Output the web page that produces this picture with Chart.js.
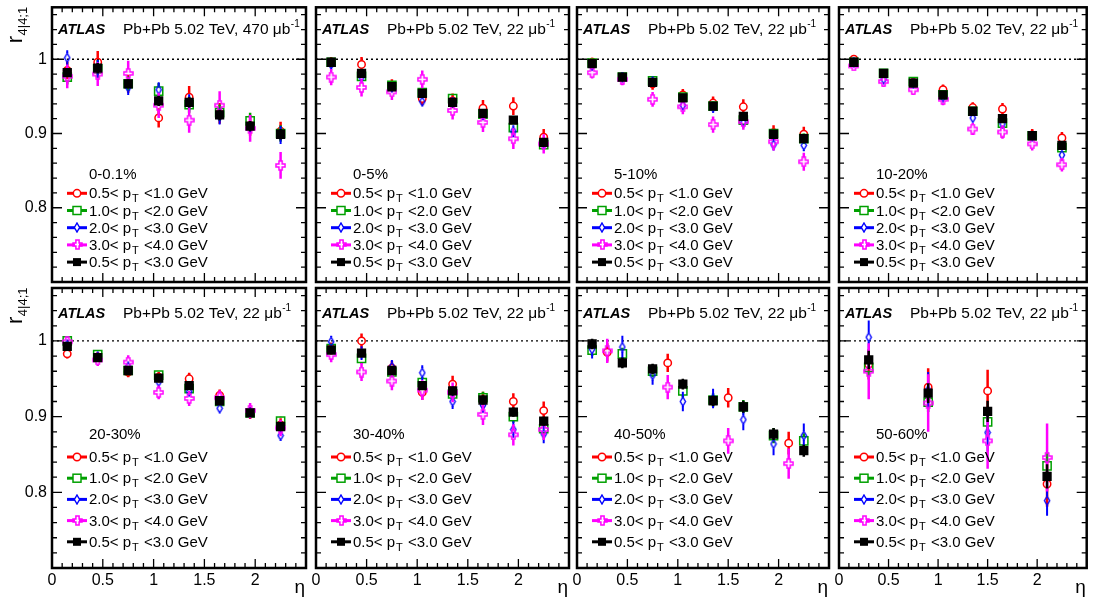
<!DOCTYPE html>
<html>
<head>
<meta charset="utf-8">
<script src="https://cdn.jsdelivr.net/npm/chart.js@4.4.0/dist/chart.umd.min.js"></script>
<style>
  body { margin: 0; background: #fff; }
  #wrap { position: relative; width: 1094px; height: 602px; background: #fff; }
  #wrap canvas { position: absolute; left: 0; top: 0; display: block; }
</style>
</head>
<body>
<div id="wrap"></div>
<script>
'use strict';

// ---- data ----
const etaFine = [0.15, 0.45, 0.75, 1.05, 1.35, 1.65, 1.95, 2.25];
const etaCoarse = [0.3, 0.9, 1.5, 2.1];
const centralities = ['0-0.1%', '0-5%', '5-10%', '10-20%', '20-30%', '30-40%', '40-50%', '50-60%'];
const lumis = ['470', '22', '22', '22', '22', '22', '22', '22'];
const ptLow = ['0.5', '1.0', '2.0', '3.0', '0.5'];
const ptHigh = ['1.0', '2.0', '3.0', '4.0', '3.0'];
const xTickLabels = [0, 0.5, 1, 1.5, 2];
const yTickLabels = [0.8, 0.9, 1];

// rows: 0.5-1, 1-2, 2-3, 3-4, 0.5-3 GeV
const r_0_01 = [
  [0.985, 0.996, 0.967, 0.921, 0.949, 0.927, 0.911, 0.903],
  [0.976, 0.987, 0.967, 0.957, 0.939, 0.928, 0.917, 0.900],
  [1.002, 0.987, 0.962, 0.959, 0.942, 0.923, 0.911, 0.898],
  [0.977, 0.980, 0.981, 0.938, 0.918, 0.938, 0.907, 0.857],
  [0.982, 0.988, 0.967, 0.944, 0.942, 0.925, 0.910, 0.899]
];
const err_0_01 = [
  [0.012, 0.015, 0.012, 0.013, 0.015, 0.014, 0.014, 0.013],
  [0.010, 0.012, 0.010, 0.011, 0.011, 0.011, 0.011, 0.011],
  [0.010, 0.012, 0.010, 0.010, 0.011, 0.011, 0.011, 0.012],
  [0.016, 0.016, 0.017, 0.017, 0.017, 0.019, 0.018, 0.018],
  [0.006, 0.007, 0.006, 0.007, 0.007, 0.007, 0.007, 0.007]
];
const r_0_5 = [
  [0.996, 0.993, 0.965, 0.947, 0.944, 0.934, 0.937, 0.895],
  [0.996, 0.977, 0.965, 0.955, 0.947, 0.926, 0.908, 0.885],
  [0.993, 0.976, 0.962, 0.943, 0.942, 0.925, 0.903, 0.887],
  [0.976, 0.962, 0.956, 0.973, 0.931, 0.915, 0.893, 0.886],
  [0.996, 0.981, 0.963, 0.954, 0.942, 0.927, 0.918, 0.888]
];
const err_0_5 = [
  [0.007, 0.010, 0.008, 0.009, 0.010, 0.011, 0.012, 0.011],
  [0.005, 0.006, 0.005, 0.006, 0.006, 0.007, 0.007, 0.007],
  [0.005, 0.006, 0.006, 0.006, 0.007, 0.007, 0.008, 0.008],
  [0.011, 0.012, 0.011, 0.012, 0.012, 0.013, 0.014, 0.013],
  [0.004, 0.004, 0.004, 0.004, 0.004, 0.005, 0.005, 0.005]
];
const r_5_10 = [
  [0.996, 0.976, 0.967, 0.952, 0.941, 0.936, 0.901, 0.899],
  [0.995, 0.976, 0.971, 0.949, 0.937, 0.918, 0.900, 0.893],
  [0.991, 0.976, 0.970, 0.938, 0.935, 0.915, 0.885, 0.884],
  [0.982, 0.973, 0.946, 0.936, 0.912, 0.916, 0.889, 0.862],
  [0.994, 0.976, 0.969, 0.948, 0.937, 0.923, 0.899, 0.893]
];
const err_5_10 = [
  [0.006, 0.007, 0.008, 0.008, 0.009, 0.010, 0.010, 0.010],
  [0.004, 0.005, 0.005, 0.005, 0.006, 0.006, 0.006, 0.007],
  [0.005, 0.005, 0.006, 0.006, 0.007, 0.007, 0.008, 0.008],
  [0.008, 0.008, 0.010, 0.010, 0.011, 0.011, 0.012, 0.012],
  [0.003, 0.003, 0.004, 0.004, 0.004, 0.004, 0.005, 0.005]
];
const r_10_20 = [
  [1.000, 0.981, 0.969, 0.959, 0.935, 0.933, 0.898, 0.894],
  [0.996, 0.981, 0.970, 0.952, 0.930, 0.914, 0.897, 0.881],
  [0.996, 0.973, 0.967, 0.949, 0.921, 0.913, 0.896, 0.871],
  [0.991, 0.970, 0.959, 0.946, 0.906, 0.902, 0.886, 0.858],
  [0.996, 0.981, 0.968, 0.952, 0.930, 0.920, 0.897, 0.884]
];
const err_10_20 = [
  [0.005, 0.006, 0.006, 0.007, 0.007, 0.008, 0.008, 0.008],
  [0.004, 0.004, 0.004, 0.005, 0.005, 0.005, 0.005, 0.006],
  [0.004, 0.004, 0.005, 0.005, 0.005, 0.006, 0.006, 0.006],
  [0.006, 0.007, 0.007, 0.008, 0.008, 0.009, 0.009, 0.009],
  [0.003, 0.003, 0.003, 0.003, 0.003, 0.004, 0.004, 0.004]
];
const r_20_30 = [
  [0.983, 0.979, 0.959, 0.952, 0.950, 0.928, 0.905, 0.889],
  [1.000, 0.982, 0.961, 0.955, 0.937, 0.920, 0.905, 0.894],
  [0.995, 0.979, 0.966, 0.946, 0.933, 0.911, 0.905, 0.875],
  [0.999, 0.975, 0.972, 0.932, 0.924, 0.925, 0.908, 0.885],
  [0.993, 0.978, 0.961, 0.951, 0.941, 0.921, 0.905, 0.887]
];
const err_20_30 = [
  [0.006, 0.006, 0.007, 0.007, 0.008, 0.008, 0.008, 0.009],
  [0.004, 0.004, 0.005, 0.005, 0.005, 0.005, 0.006, 0.006],
  [0.005, 0.005, 0.005, 0.006, 0.006, 0.006, 0.007, 0.007],
  [0.007, 0.008, 0.009, 0.009, 0.010, 0.010, 0.010, 0.011],
  [0.003, 0.003, 0.003, 0.004, 0.004, 0.004, 0.004, 0.004]
];
const r_30_40 = [
  [0.990, 1.000, 0.964, 0.932, 0.943, 0.922, 0.920, 0.908],
  [0.990, 0.977, 0.959, 0.945, 0.930, 0.925, 0.900, 0.884],
  [0.999, 0.984, 0.966, 0.958, 0.920, 0.915, 0.883, 0.877],
  [0.982, 0.959, 0.947, 0.935, 0.932, 0.903, 0.876, 0.883],
  [0.988, 0.984, 0.961, 0.941, 0.934, 0.922, 0.906, 0.894]
];
const err_30_40 = [
  [0.008, 0.010, 0.010, 0.010, 0.011, 0.011, 0.011, 0.012],
  [0.006, 0.007, 0.007, 0.007, 0.008, 0.008, 0.008, 0.009],
  [0.008, 0.009, 0.009, 0.010, 0.010, 0.010, 0.011, 0.012],
  [0.010, 0.012, 0.012, 0.013, 0.013, 0.014, 0.014, 0.014],
  [0.005, 0.005, 0.005, 0.005, 0.006, 0.006, 0.006, 0.006]
];
const r_40_50 = [
  [0.985, 0.971, 0.925, 0.865],
  [0.988, 0.983, 0.960, 0.934, 0.922, 0.913, 0.875, 0.868],
  [0.989, 0.992, 0.955, 0.920, 0.924, 0.896, 0.864, 0.875],
  [0.987, 0.939, 0.868, 0.838],
  [0.996, 0.971, 0.963, 0.943, 0.921, 0.913, 0.877, 0.855]
];
const err_40_50 = [
  [0.012, 0.012, 0.013, 0.015],
  [0.008, 0.008, 0.008, 0.009, 0.009, 0.009, 0.010, 0.010],
  [0.012, 0.015, 0.013, 0.013, 0.013, 0.014, 0.015, 0.016],
  [0.016, 0.016, 0.017, 0.020],
  [0.007, 0.007, 0.007, 0.007, 0.007, 0.008, 0.008, 0.008]
];
const r_50_60 = [
  [0.969, 0.939, 0.934, 0.811],
  [0.965, 0.919, 0.893, 0.835],
  [1.005, 0.935, 0.879, 0.789],
  [0.960, 0.918, 0.868, 0.846],
  [0.975, 0.931, 0.907, 0.821]
];
const err_50_60 = [
  [0.020, 0.025, 0.028, 0.030],
  [0.012, 0.013, 0.015, 0.018],
  [0.022, 0.024, 0.025, 0.020],
  [0.037, 0.038, 0.037, 0.045],
  [0.012, 0.013, 0.014, 0.016]
];

const binsFine = [etaFine, etaFine, etaFine, etaFine, etaFine];
const bins_40_50 = [etaCoarse, etaFine, etaFine, etaCoarse, etaFine];
const binsCoarse = [etaCoarse, etaCoarse, etaCoarse, etaCoarse, etaCoarse];

const panelValues = [r_0_01, r_0_5, r_5_10, r_10_20, r_20_30, r_30_40, r_40_50, r_50_60];
const panelErrors = [err_0_01, err_0_5, err_5_10, err_10_20, err_20_30, err_30_40, err_40_50, err_50_60];
const panelBins = [binsFine, binsFine, binsFine, binsFine, binsFine, binsFine, bins_40_50, binsCoarse];

// ---- layout ----
const W = 1094, H = 602;
const colLeft = [52, 316, 577, 839];
const colRight = [306, 569, 829, 1091];
const rowTop = [4, 288];
const rowBottom = [282, 568];
const FONT = "'Liberation Sans', Arial, Helvetica, sans-serif";

const rowTitleBase = [27, 30];
const rowCentBase = [172, 151];
const rowLegBase = [191, 174];
const rowLegStep = [17.2, 21.2];

function makeDiamond() {
  const c = document.createElement('canvas');
  c.width = 8; c.height = 11;
  const g = c.getContext('2d');
  g.strokeStyle = '#0000ff';
  g.lineWidth = 1.4;
  g.beginPath();
  g.moveTo(4, 1); g.lineTo(6.6, 5.5); g.lineTo(4, 10); g.lineTo(1.4, 5.5);
  g.closePath();
  g.stroke();
  return c;
}

function makeOpenCross() {
  const c = document.createElement('canvas');
  c.width = 11; c.height = 11;
  const g = c.getContext('2d');
  g.strokeStyle = '#ff00ff';
  g.lineWidth = 1.5;
  const m = 5.5, a = 4.5, b = 1.6;
  g.beginPath();
  g.moveTo(m - b, m - a); g.lineTo(m + b, m - a); g.lineTo(m + b, m - b);
  g.lineTo(m + a, m - b); g.lineTo(m + a, m + b); g.lineTo(m + b, m + b);
  g.lineTo(m + b, m + a); g.lineTo(m - b, m + a); g.lineTo(m - b, m + b);
  g.lineTo(m - a, m + b); g.lineTo(m - a, m - b); g.lineTo(m - b, m - b);
  g.closePath();
  g.stroke();
  return c;
}

const diamondImg = makeDiamond();
const crossImg = makeOpenCross();

const seriesStyle = [
  { color: '#ff0000', pointStyle: 'circle', radius: 3.7, gap: 3.7, bar: 2.5, fill: 'rgba(0,0,0,0)' },
  { color: '#00a000', pointStyle: 'rect', radius: 5.8, gap: 4, bar: 2.5, fill: 'rgba(0,0,0,0)' },
  { color: '#0000ff', pointStyle: diamondImg, radius: 5, gap: 4.5, bar: 2, fill: 'rgba(0,0,0,0)' },
  { color: '#ff00ff', pointStyle: crossImg, radius: 5, gap: 4.5, bar: 2.5, fill: 'rgba(0,0,0,0)' },
  { color: '#000000', pointStyle: 'rect', radius: 5.5, gap: 0, bar: 2.5, fill: '#000000' }
];

function drawLegendMarker(ctx, k, x, y) {
  const st = seriesStyle[k];
  ctx.save();
  ctx.strokeStyle = st.color;
  ctx.lineWidth = 1.5;
  if (k === 0) {
    ctx.fillStyle = '#fff';
    ctx.beginPath();
    ctx.arc(x, y, 3.7, 0, Math.PI * 2);
    ctx.fill();
    ctx.stroke();
  } else if (k === 1) {
    ctx.fillStyle = '#fff';
    ctx.fillRect(x - 4, y - 4, 8, 8);
    ctx.strokeRect(x - 4, y - 4, 8, 8);
  } else if (k === 4) {
    ctx.fillStyle = '#000';
    ctx.fillRect(x - 4, y - 4, 8, 8);
  } else {
    const img = st.pointStyle;
    ctx.fillStyle = '#fff';
    ctx.fillRect(x - 2, y - 2, 4, 4);
    ctx.drawImage(img, Math.round(x - img.width / 2), Math.round(y - img.height / 2));
  }
  ctx.restore();
}

function drawPtText(ctx, x, y, lo, hi) {
  ctx.font = '15px ' + FONT;
  const pre = lo + '< p';
  ctx.fillText(pre, x, y);
  const w1 = ctx.measureText(pre).width;
  ctx.font = '11px ' + FONT;
  ctx.fillText('T', x + w1 + 1, y + 4);
  const wT = ctx.measureText('T').width;
  ctx.font = '15px ' + FONT;
  ctx.fillText(' <' + hi + ' GeV', x + w1 + wT + 2, y);
}

const panelDecor = {
  id: 'panelDecor',
  beforeDatasetsDraw(chart) {
    const ctx = chart.ctx, a = chart.chartArea;
    const y1 = chart.scales.y.getPixelForValue(1);
    ctx.save();
    ctx.strokeStyle = '#000';
    ctx.lineWidth = 1.3;
    ctx.setLineDash([2, 3]);
    ctx.beginPath();
    ctx.moveTo(a.left, y1);
    ctx.lineTo(a.right, y1);
    ctx.stroke();
    ctx.restore();
  },
  beforeDatasetDraw(chart, args) {
    const k = args.index;
    const st = seriesStyle[k];
    const ds = chart.data.datasets[k];
    const xs = chart.scales.x, ys = chart.scales.y;
    const ctx = chart.ctx;
    ctx.save();
    ctx.strokeStyle = st.color;
    ctx.lineWidth = st.bar;
    ctx.beginPath();
    ds.data.forEach(pt => {
      const px = xs.getPixelForValue(pt.x);
      const py = ys.getPixelForValue(pt.y);
      const top = ys.getPixelForValue(pt.y + pt.e);
      const bot = ys.getPixelForValue(pt.y - pt.e);
      if (top < py - st.gap) { ctx.moveTo(px, top); ctx.lineTo(px, py - st.gap); }
      if (bot > py + st.gap) { ctx.moveTo(px, py + st.gap); ctx.lineTo(px, bot); }
    });
    ctx.stroke();
    ctx.restore();
  },
  afterDraw(chart, args, opts) {
    const p = opts.panel;
    const col = p % 4, row = Math.floor(p / 4);
    const ctx = chart.ctx, a = chart.chartArea;
    const xs = chart.scales.x, ys = chart.scales.y;
    ctx.save();
    ctx.strokeStyle = '#000';
    ctx.fillStyle = '#000';

    // ticks, inward on all four sides
    ctx.lineWidth = 1.3;
    ctx.beginPath();
    for (let i = 0; i <= 25; i++) {
      const px = xs.getPixelForValue(i / 10);
      const len = i % 5 === 0 ? 9 : 5;
      ctx.moveTo(px, a.bottom); ctx.lineTo(px, a.bottom - len);
      ctx.moveTo(px, a.top); ctx.lineTo(px, a.top + len);
    }
    for (let i = 0; i <= 18; i++) {
      const py = ys.getPixelForValue(0.7 + i * 0.02);
      const len = i % 5 === 0 ? 10 : 5;
      ctx.moveTo(a.left, py); ctx.lineTo(a.left + len, py);
      ctx.moveTo(a.right, py); ctx.lineTo(a.right - len, py);
    }
    ctx.stroke();

    // frame
    ctx.lineWidth = 2.5;
    ctx.strokeRect(a.left, a.top, a.right - a.left, a.bottom - a.top);

    // header
    const L = a.left, T = a.top;
    ctx.textAlign = 'left';
    ctx.textBaseline = 'alphabetic';
    ctx.font = 'italic bold 14.5px ' + FONT;
    ctx.fillText('ATLAS', L + 6, T + rowTitleBase[row]);
    ctx.font = '15.5px ' + FONT;
    const head = 'Pb+Pb 5.02 TeV, ' + lumis[p] + ' \u03bcb';
    ctx.fillText(head, L + 71, T + rowTitleBase[row]);
    const hw = ctx.measureText(head).width;
    ctx.font = '10px ' + FONT;
    ctx.fillText('-1', L + 71 + hw + 0.5, T + rowTitleBase[row] - 7);

    // centrality and legend
    ctx.font = '15px ' + FONT;
    ctx.fillText(centralities[p], L + 37, T + rowCentBase[row]);
    for (let k = 0; k < 5; k++) {
      const by = T + rowLegBase[row] + k * rowLegStep[row];
      const my = by - 5;
      const st = seriesStyle[k];
      ctx.save();
      ctx.strokeStyle = st.color;
      ctx.lineWidth = 3;
      ctx.beginPath();
      ctx.moveTo(L + 15, my); ctx.lineTo(L + 35, my);
      ctx.stroke();
      ctx.restore();
      drawLegendMarker(ctx, k, L + 25, my);
      drawPtText(ctx, L + 37, by, ptLow[k], ptHigh[k]);
    }

    // axis titles
    if (col === 0) {
      ctx.save();
      ctx.translate(22, T + 36);
      ctx.rotate(-Math.PI / 2);
      ctx.font = '22px ' + FONT;
      ctx.fillText('r', 0, 0);
      const wr = ctx.measureText('r').width;
      ctx.font = '13px ' + FONT;
      ctx.fillText('4|4;1', wr + 0.5, 5);
      ctx.restore();
    }
    if (row === 1) {
      ctx.font = '19px ' + FONT;
      ctx.textAlign = 'right';
      ctx.fillText('\u03b7', a.right - 1, 593);
    }
    ctx.restore();
  }
};

const wrap = document.getElementById('wrap');

for (let p = 0; p < 8; p++) {
  const col = p % 4, row = Math.floor(p / 4);
  const canvas = document.createElement('canvas');
  canvas.width = W;
  canvas.height = H;
  wrap.appendChild(canvas);

  const datasets = panelValues[p].map((vals, k) => {
    const st = seriesStyle[k];
    return {
      label: ptLow[k] + '<pT<' + ptHigh[k] + ' GeV',
      data: vals.map((v, i) => ({ x: panelBins[p][k][i], y: v, e: panelErrors[p][k][i] })),
      order: 4 - k,
      pointStyle: st.pointStyle,
      pointRadius: st.radius,
      pointBorderWidth: 1.5,
      pointBorderColor: st.color,
      pointBackgroundColor: st.fill,
      borderColor: st.color,
      backgroundColor: st.fill
    };
  });

  new Chart(canvas, {
    type: 'scatter',
    data: { datasets: datasets },
    plugins: [panelDecor],
    options: {
      responsive: false,
      animation: false,
      events: [],
      layout: {
        padding: {
          left: col === 0 ? 0 : colLeft[col],
          right: W - colRight[col],
          top: rowTop[row],
          bottom: row === 1 ? 0 : H - rowBottom[row]
        }
      },
      plugins: {
        legend: { display: false },
        tooltip: { enabled: false },
        panelDecor: { panel: p }
      },
      scales: {
        x: {
          type: 'linear',
          position: 'bottom',
          min: 0,
          max: 2.5,
          grid: { display: false, drawTicks: false },
          border: { display: false },
          afterBuildTicks: axis => { axis.ticks = xTickLabels.map(v => ({ value: v })); },
          afterFit: s => {
            s.height = row === 1 ? H - rowBottom[1] : 0;
            s.paddingLeft = 0;
            s.paddingRight = 0;
          },
          ticks: {
            display: row === 1,
            autoSkip: false,
            maxRotation: 0,
            padding: 3,
            color: '#000',
            font: { family: FONT, size: 16 },
            callback: v => String(v)
          }
        },
        y: {
          type: 'linear',
          position: 'left',
          min: 0.7,
          max: 1.07,
          grid: { display: false, drawTicks: false },
          border: { display: false },
          afterBuildTicks: axis => { axis.ticks = yTickLabels.map(v => ({ value: v })); },
          afterFit: s => {
            s.width = col === 0 ? colLeft[0] : 0;
            s.paddingTop = 0;
            s.paddingBottom = 0;
          },
          ticks: {
            display: col === 0,
            autoSkip: false,
            padding: 5,
            color: '#000',
            font: { family: FONT, size: 16 },
            callback: v => String(v)
          }
        }
      }
    }
  });
}
</script>
</body>
</html>
